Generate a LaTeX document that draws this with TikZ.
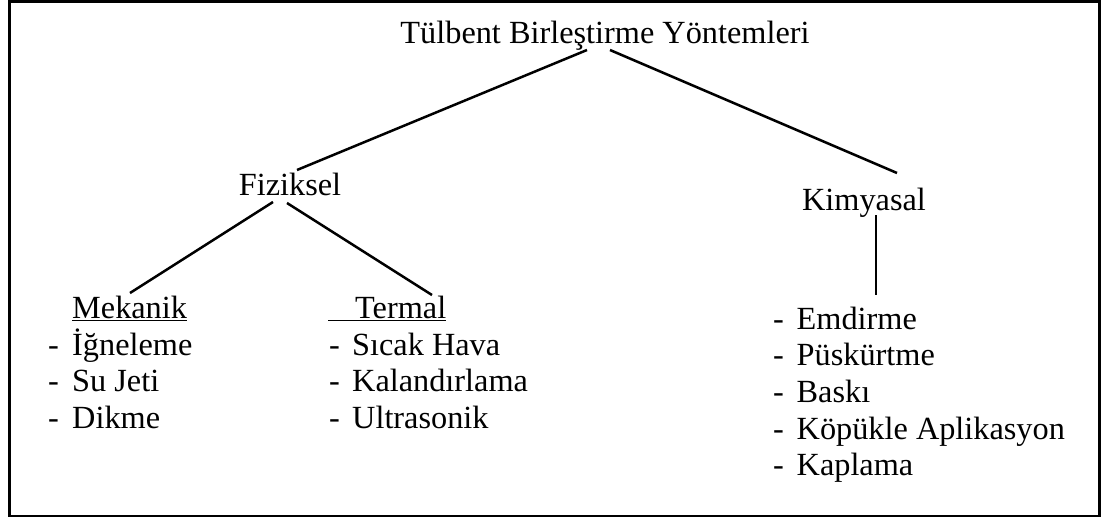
\documentclass[tikz,border=0pt]{standalone}
\usepackage{fontspec}
\setmainfont{Liberation Serif}
\begin{document}
\begin{tikzpicture}[x=1pt,y=-1pt,
  lbl/.style={inner sep=0pt, font=\fontsize{32.3}{36.7}\selectfont},
  item/.style={lbl, anchor=base west},
  conn/.style={line width=2.5pt}]
\useasboundingbox (0,0) rectangle (1105,517);
\draw[line width=2.5pt] (9.5,1.25) rectangle (1099.5,515.75);
% headings
\node[lbl, anchor=base] (title) at (605,43) {Tülbent Birleştirme Yöntemleri};
\node[lbl, anchor=base] (fiz) at (290,195) {Fiziksel};
\node[lbl, anchor=base] (kim) at (864,210) {Kimyasal};
\node[item] (mek) at (72,318) {\underline{Mekanik}};
\node[item] (ter) at (328,318) {\underline{\hspace{27pt}Termal}};
% Mekanik list
\node[item] (m1) at (48,355) {\makebox[24pt][l]{-}İğneleme};
\node[item] (m2) at (48,391.7) {\makebox[24pt][l]{-}Su Jeti};
\node[item] (m3) at (48,428.4) {\makebox[24pt][l]{-}Dikme};
% Termal list
\node[item] (t1) at (329,355) {\makebox[23pt][l]{-}Sıcak Hava};
\node[item] (t2) at (329,391.7) {\makebox[23pt][l]{-}Kalandırlama};
\node[item] (t3) at (329,428.4) {\makebox[23pt][l]{-}Ultrasonik};
% Kimyasal list
\node[item] (e1) at (773,329) {\makebox[23.5pt][l]{-}Emdirme};
\node[item] (e2) at (773,365.7) {\makebox[23.5pt][l]{-}Püskürtme};
\node[item] (e3) at (773,402.4) {\makebox[23.5pt][l]{-}Baskı};
\node[item] (e4) at (773,439.1) {\makebox[23.5pt][l]{-}Köpükle Aplikasyon};
\node[item] (e5) at (773,475.8) {\makebox[23.5pt][l]{-}Kaplama};
% connectors
\draw[conn] ([xshift=-18pt,yshift=-7pt]title.base) -- ([xshift=7pt,yshift=25pt]fiz.base);
\draw[conn] ([xshift=5pt,yshift=-7pt]title.base) -- ([xshift=33pt,yshift=37pt]kim.base);
\draw[conn] ([xshift=-17pt,yshift=-7pt]fiz.base) -- ([xshift=58pt,yshift=25pt]mek.base west);
\draw[conn] ([xshift=-3pt,yshift=-8pt]fiz.base) -- ([xshift=104pt,yshift=23pt]ter.base west);
\draw[conn] ([xshift=12pt,yshift=-5pt]kim.base) -- ([xshift=103pt,yshift=34pt]e1.base west);
\end{tikzpicture}
\end{document}
